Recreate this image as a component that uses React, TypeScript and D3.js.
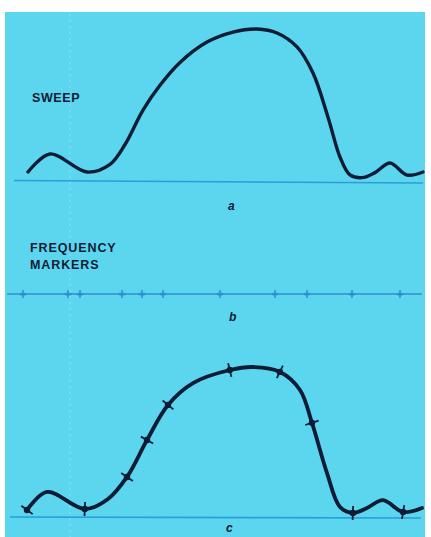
import React, { useEffect, useRef } from "react";
import * as d3 from "d3";

// Frequency axis (arbitrary units) and relative amplitude (0-100)
const sweepFreq = [28, 50, 87, 110, 125, 143, 160, 180, 207, 233, 257, 277, 297, 313, 328, 340, 350, 362, 375, 390, 407, 423];
const sweepAmp = [5.9, 17.8, 5.9, 11, 24, 46.7, 63, 78, 91.4, 98, 100, 97.4, 88.2, 71, 42, 15.8, 4, 2.2, 5.5, 11.8, 3.9, 5.9];

const markerFreq = [23, 68, 80, 122, 142, 163, 220, 275, 307, 352, 400];

const combFreq = [27, 47, 85, 108, 127, 147, 168, 193, 230, 253, 280, 300, 312, 327, 340, 353, 367, 383, 403, 422];
const combAmp = [4.7, 16.7, 5.3, 12, 26.7, 51.3, 74.7, 89.3, 98, 100, 96.7, 84.7, 62.7, 29.3, 6.7, 2.7, 6, 11.3, 3.3, 6];
const combMarkerFreq = [27, 85, 127, 147, 168, 230, 280, 312, 353, 403];

const labels = { a: "a", b: "b", c: "c" };

const W = 431;
const H = 537;
const BG = "#5cd5ef";
const INK = "#0f1c35";
const BASE = "#2b9dd8";

export default function App() {
  const ref = useRef<SVGSVGElement | null>(null);

  useEffect(() => {
    const svg = d3.select(ref.current);
    svg.selectAll("*").remove();

    const x = d3.scaleLinear().domain([0, 430]).range([0, 430]);
    const yA = d3.scaleLinear().domain([0, 100]).range([181, 29]);
    const yC = d3.scaleLinear().domain([0, 100]).range([517, 367]);

    svg.append("rect").attr("x", 0).attr("y", 0).attr("width", W).attr("height", H).attr("fill", "#ffffff");
    svg.append("rect").attr("x", 5).attr("y", 12).attr("width", 420).attr("height", H - 12).attr("fill", BG);

    // faint graticule
    svg.append("line").attr("x1", 70).attr("x2", 70).attr("y1", 14).attr("y2", H)
      .attr("stroke", "#8fe3f5").attr("stroke-width", 1.2).attr("stroke-dasharray", "2,4").attr("opacity", 0.8);

    // baselines
    svg.append("line").attr("x1", x(14)).attr("x2", x(423)).attr("y1", yA(0) - 0.5).attr("y2", yA(0) + 2)
      .attr("stroke", BASE).attr("stroke-width", 1.6);
    svg.append("line").attr("x1", x(10)).attr("x2", x(421)).attr("y1", yC(0)).attr("y2", yC(0) + 1)
      .attr("stroke", BASE).attr("stroke-width", 1.6);

    // marker line b
    const yB = 294;
    svg.append("line").attr("x1", x(7)).attr("x2", x(422)).attr("y1", yB).attr("y2", yB)
      .attr("stroke", "#2f8fd3").attr("stroke-width", 1.5);
    const mk = svg.append("g");
    markerFreq.forEach((f) => {
      mk.append("line").attr("x1", x(f)).attr("x2", x(f)).attr("y1", yB - 4).attr("y2", yB + 4)
        .attr("stroke", "#2f8fd3").attr("stroke-width", 1.5);
      mk.append("ellipse").attr("cx", x(f)).attr("cy", yB).attr("rx", 3.5).attr("ry", 1.6)
        .attr("fill", "#2f8fd3");
    });

    const line = (ys: d3.ScaleLinear<number, number>) =>
      d3.line<[number, number]>().x((d) => x(d[0])).y((d) => ys(d[1])).curve(d3.curveCatmullRom.alpha(0.5));

    const aData = sweepFreq.map((f, i) => [f, sweepAmp[i]] as [number, number]);
    svg.append("path").attr("d", line(yA)(aData)).attr("fill", "none").attr("stroke", INK)
      .attr("stroke-width", 3.4).attr("stroke-linecap", "round").attr("stroke-linejoin", "round");

    const cData = combFreq.map((f, i) => [f, combAmp[i]] as [number, number]);
    const cPath = svg.append("path").attr("d", line(yC)(cData)).attr("fill", "none").attr("stroke", INK)
      .attr("stroke-width", 3.8).attr("stroke-linecap", "round").attr("stroke-linejoin", "round");

    // markers on combined curve
    const node = cPath.node() as SVGPathElement;
    const total = node.getTotalLength();
    const samples: { x: number; y: number; l: number }[] = [];
    for (let l = 0; l <= total; l += 0.5) {
      const p = node.getPointAtLength(l);
      samples.push({ x: p.x, y: p.y, l });
    }
    combMarkerFreq.forEach((f) => {
      const px = x(f);
      let best = samples[0];
      samples.forEach((s) => {
        if (Math.abs(s.x - px) < Math.abs(best.x - px)) best = s;
      });
      const p0 = node.getPointAtLength(Math.max(0, best.l - 2));
      const p1 = node.getPointAtLength(Math.min(total, best.l + 2));
      const dx = p1.x - p0.x;
      const dy = p1.y - p0.y;
      const len = Math.hypot(dx, dy) || 1;
      const nx = -dy / len;
      const ny = dx / len;
      const h = 7;
      svg.append("line")
        .attr("x1", best.x - nx * h).attr("y1", best.y - ny * h)
        .attr("x2", best.x + nx * h).attr("y2", best.y + ny * h)
        .attr("stroke", INK).attr("stroke-width", 1.8);
      svg.append("ellipse").attr("cx", best.x).attr("cy", best.y).attr("rx", 3.2).attr("ry", 3.2).attr("fill", INK);
    });

    const font = "'Liberation Sans', Arial, sans-serif";
    const t = (tx: number, ty: number, s: string, size: number, italic = false, ls = 0.6) =>
      svg.append("text").attr("x", tx).attr("y", ty).text(s).attr("fill", INK)
        .attr("font-family", font).attr("font-weight", "bold").attr("font-size", size)
        .attr("font-style", italic ? "italic" : "normal").attr("letter-spacing", ls);

    t(32, 102, "SWEEP", 12.5);
    t(30, 252, "FREQUENCY", 12.5, false, 0.9);
    t(30, 269, "MARKERS", 12.5, false, 0.9);
    t(228, 210, labels.a, 12, true, 0);
    t(229, 321, labels.b, 12, true, 0);
    t(226, 532, labels.c, 12, true, 0);
  }, []);

  return (
    <svg ref={ref} width={W} height={H} style={{ position: "absolute", left: 0, top: 0, display: "block" }} />
  );
}
